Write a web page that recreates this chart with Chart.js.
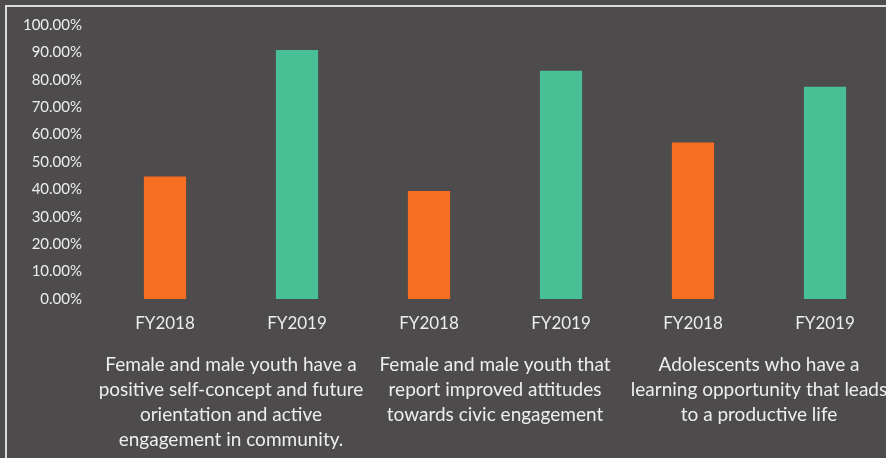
<!DOCTYPE html>
<html>
<head>
<meta charset="utf-8">
<script src="https://cdn.jsdelivr.net/npm/chart.js@4"></script>
<style>
  html, body { margin: 0; padding: 0; background: #4d4b4c; overflow: hidden; }
  #frame { position: absolute; left: 5px; top: 5px; width: 900px; height: 470px;
           border-left: 2px solid #dcdcdc; border-top: 2px solid #dcdcdc; }
  #chart { position: absolute; left: 7px; top: 7px; }
</style>
</head>
<body>
<div id="frame"></div>
<canvas id="chart" width="886" height="451"></canvas>
<script>
/* data */
const years   = ['FY2018', 'FY2019', 'FY2018', 'FY2019', 'FY2018', 'FY2019'];
const values  = [0.447, 0.909, 0.394, 0.833, 0.571, 0.775];
const groups  = [
  ['Female and male youth have a', 'positive self-concept and future', 'orientation and active', 'engagement in community.'],
  ['Female and male youth that', 'report improved attitudes', 'towards civic engagement'],
  ['Adolescents who have a', 'learning opportunity that leads', 'to a productive life']
];
const yTicks  = [0, 0.1, 0.2, 0.3, 0.4, 0.5, 0.6, 0.7, 0.8, 0.9, 1.0];

const COL = {
  orange: '#f66e22',
  teal:   '#48bf94',
  text:   '#eeeeee',
  font:   "Lato, 'Open Sans', sans-serif"
};

// keep the long labels from squeezing the plot area
function noSidePad(s) { s.paddingLeft = 0; s.paddingRight = 0; }

new Chart(document.getElementById('chart').getContext('2d'), {
  type: 'bar',
  data: {
    labels: years,
    datasets: [{
      data: values,
      backgroundColor: years.map(y => y === 'FY2018' ? COL.orange : COL.teal),
      borderWidth: 0,
      categoryPercentage: 1,
      barPercentage: 0.32
    }]
  },
  options: {
    responsive: false,
    animation: false,
    layout: { padding: { top: 0, right: 2, left: 0, bottom: 0 } },
    plugins: { legend: { display: false }, tooltip: { enabled: false } },
    scales: {
      y: {
        min: 0, max: 1,
        afterBuildTicks: s => { s.ticks = yTicks.map(v => ({ value: v })); },
        afterFit: s => { s.width = 92; s.paddingTop = 18; s.paddingBottom = 0; },
        grid: { display: false, drawTicks: false },
        border: { display: false },
        ticks: {
          color: COL.text, padding: 17,
          font: { family: COL.font, size: 15 },
          callback: v => (v * 100).toFixed(2) + '%'
        }
      },
      x: {
        afterFit: s => { s.height = 36; noSidePad(s); },
        grid: { display: false, drawTicks: false },
        border: { display: false },
        ticks: {
          color: COL.text, padding: 14, autoSkip: false, maxRotation: 0,
          font: { family: COL.font, size: 17 }
        }
      },
      x2: {
        type: 'category',
        position: 'bottom',
        labels: groups,
        offset: true,
        afterFit: s => { s.height = 123; noSidePad(s); },
        grid: { display: false, drawTicks: false },
        border: { display: false },
        ticks: {
          color: COL.text, padding: 17, autoSkip: false, maxRotation: 0,
          font: { family: COL.font, size: 19, lineHeight: 1.316 }
        }
      }
    }
  }
});
</script>
</body>
</html>
